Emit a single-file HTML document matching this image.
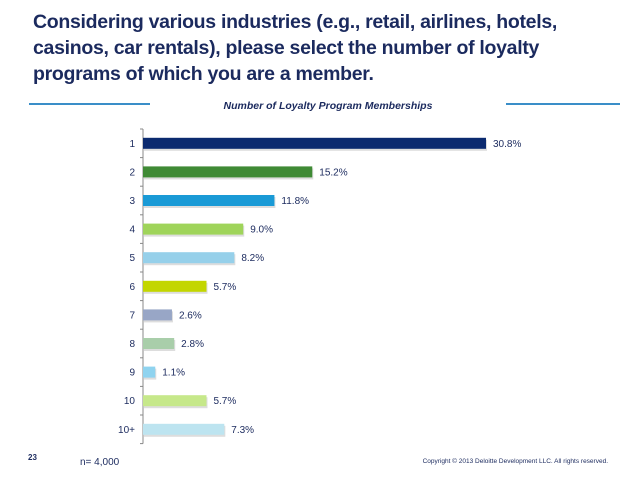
<!DOCTYPE html>
<html><head><meta charset="utf-8"><style>
body{margin:0;width:638px;height:479px;background:#fff;font-family:"Liberation Sans",sans-serif;overflow:hidden;position:relative}
.t{position:absolute;left:33px;top:9px;font-size:19.5px;font-weight:bold;color:#1b2a5e;line-height:26px;letter-spacing:-0.3px}
</style></head><body>
<div class="t">Considering various industries (e.g., retail, airlines, hotels,<br>casinos, car rentals), please select the number of loyalty<br>programs of which you are a member.</div>
<svg width="638" height="479" style="position:absolute;left:0;top:0" id="chart">
<line x1="29" y1="104" x2="150" y2="104" stroke="#3a8ec8" stroke-width="2"/>
<line x1="506" y1="104" x2="620" y2="104" stroke="#3a8ec8" stroke-width="2"/>
<text x="328" y="109" text-anchor="middle" font-size="10.5" font-weight="bold" font-style="italic" fill="#1b2a5e">Number of Loyalty Program Memberships</text>
<g id="bars"></g>
<text x="28" y="460" font-size="8" font-weight="bold" fill="#1b2a5e">23</text>
<text x="80" y="465" font-size="10" fill="#1b2a5e">n= 4,000</text>
<text x="608" y="463" text-anchor="end" font-size="6.5" fill="#1b2a5e">Copyright © 2013 Deloitte Development LLC. All rights reserved.</text>
</svg>
<script>
const categories=["1","2","3","4","5","6","7","8","9","10","10+"];
const values=[30.8,15.2,11.8,9.0,8.2,5.7,2.6,2.8,1.1,5.7,7.3];
const valueLabels=["30.8%","15.2%","11.8%","9.0%","8.2%","5.7%","2.6%","2.8%","1.1%","5.7%","7.3%"];
const colors=["#0b2a6f","#3f8a35","#1a9ad6","#9fd45a","#96d0ea","#c3d600","#98a6c6","#a9ceaa","#8fd3ef","#c6e88a","#bde4f0"];
const ns="http://www.w3.org/2000/svg";
const g=document.getElementById('bars');
const x0=143,scale=343/30.8,y0=129,step=28.6,bh=11;
const xs=v=>x0+v*scale, yc=i=>y0+step*(i+0.5);
function mk(t,a){const e=document.createElementNS(ns,t);for(const k in a)e.setAttribute(k,a[k]);g.appendChild(e);return e;}
const ax=mk('line',{x1:x0,y1:y0,x2:x0,y2:y0+step*categories.length,stroke:'#888','stroke-width':1});


for(let i=0;i<=categories.length;i++){const tk=mk('line',{x1:x0-3,y1:y0+step*i,x2:x0,y2:y0+step*i,stroke:'#888'});

}
categories.forEach((c,i)=>{
 const sh=mk('rect',{x:x0+1,y:yc(i)-bh/2+2,width:xs(values[i])-x0,height:bh,fill:'#bbb',opacity:0.5});
 
 
 const r=mk('rect',{x:x0,y:yc(i)-bh/2,width:xs(values[i])-x0,height:bh,fill:colors[i]});
 
 
 const l=mk('text',{x:x0-8,y:yc(i)+3.5,'text-anchor':'end','font-size':10,fill:'#1b2a5e'});l.textContent=c;
 
 
 const v=mk('text',{x:xs(values[i])+7,y:yc(i)+3.5,'font-size':10,fill:'#1b2a5e'});v.textContent=valueLabels[i];
 
 
});
</script>
</body></html>
